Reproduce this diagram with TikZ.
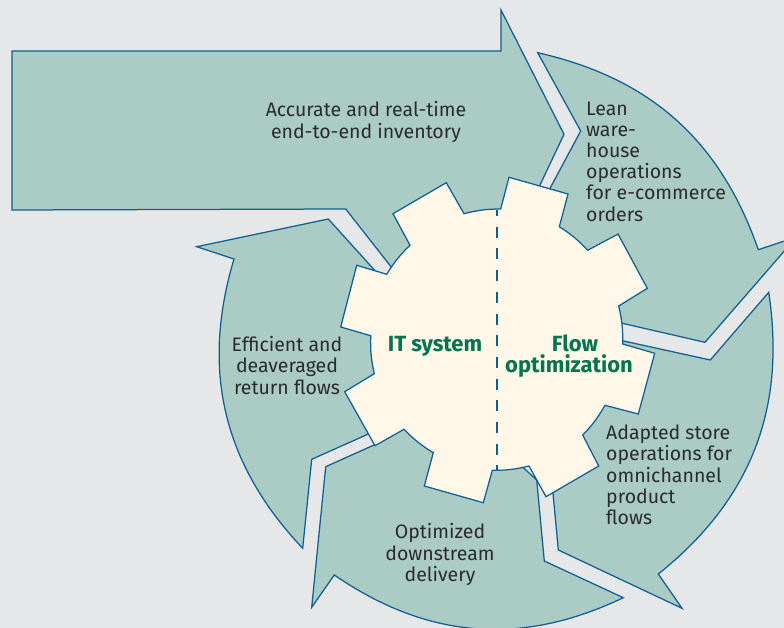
\documentclass[tikz,border=0pt]{standalone}
\usepackage{fontspec}
\setmainfont{Fira Sans}
\definecolor{bgc}{HTML}{E6E7E9}
\definecolor{tealc}{HTML}{ABCBC5}
\definecolor{linec}{HTML}{0F5F92}
\definecolor{gearc}{HTML}{FFF8E8}
\definecolor{greenc}{HTML}{00734F}
\definecolor{textc}{HTML}{2B2B2B}
\tikzset{
  petal/.style={fill=tealc,draw=linec,line width=1.25pt,line join=miter,miter limit=20},
  geartooth/.style={fill=gearc,draw=linec,line width=1.25pt,line join=miter},
  lab/.style={inner sep=0pt,text=textc,font=\fontsize{19.5}{21.2}\selectfont},
  gearlab/.style={inner sep=0pt,text=greenc,align=center,font=\fontsize{22}{21.2}\selectfont\bfseries},
  divider/.style={draw=linec,line width=1.9pt,dash pattern=on 11pt off 10.7pt,dash phase=5pt}
}
\begin{document}
\begin{tikzpicture}[x=1pt,y=-1pt]
\useasboundingbox (0,0) rectangle (784,628);
\fill[bgc] (0,0) rectangle (784,628);
\clip (0,0) rectangle (784,628);
% big arrow
\draw[petal] (12,51) -- (501,51) -- (501,10) -- (564,134.3) -- (540,185) -- (470,300) -- (391,266.7) -- (345.7,209) -- (12,210) -- cycle;
% lean warehouse
\draw[petal] (537.7,52.7) to[bend left=29] (758.3,249.7) -- (796.5,237) -- (705,342.3) -- (621,323) -- (540,300) -- (550,188.3) -- (580.7,131) -- cycle;
% adapted store
\draw[petal] (768.7,292.3) to[bend left=30] (658.3,574) -- (682,608.3) -- (558.3,550) -- (552.7,490) -- (560,380) -- (622.3,340.7) -- (710.3,360) -- cycle;
% optimized delivery
\draw[petal] (623.3,597.7) to[bend left=30] (334.3,575) -- (311.7,607.3) -- (325.7,466.7) -- (374,445) -- (450,400) -- (536.7,480) -- (544.3,561) -- cycle;
% efficient return
\draw[petal] (302.7,548.3) to[bend left=30] (234,259) -- (196.7,246.7) -- (328.3,219) -- (375,270.7) -- (420,340) -- (367.7,434.3) -- (311.7,459.3) -- cycle;
% gear
\draw[geartooth] (500.7,209) -- (509,177.3) -- (568,194) -- (559.3,226.7)
  to[bend left=7] (587.7,250.3) -- (618,234) -- (647.3,288.3) -- (618.7,306)
  to[bend left=7] (622.7,344) -- (654.7,353.3) -- (638.3,414) -- (605,405.3)
  to[bend left=7] (582.7,435) -- (598.7,466) -- (546,496.7) -- (529,466)
  to[bend left=7] (492.3,470.3) -- (483.3,502.7) -- (424.3,486) -- (433.3,452.7)
  to[bend left=7] (404,429.3) -- (375,445.7) -- (344.7,391.7) -- (374.3,373.7)
  to[bend left=7] (370.7,335.7) -- (340.7,327) -- (356.7,265.3) -- (386.7,274.3)
  to[bend left=7] (410,245.3) -- (393,213.7) -- (446.3,182.7) -- (464,213.7)
  to[bend left=7] cycle;
\coordinate (divtop) at (497.4,210);
\coordinate (divbot) at (497.4,470);
\draw[divider] (divtop) -- (divbot);
% labels
\node[lab,align=center] (inv) at (366,122) {Accurate and real-time\\end-to-end inventory};
\node[lab,align=left,anchor=west] (lean) at (586,161.5) {Lean\\ware-\\house\\operations\\for e-commerce\\orders};
\node[lab,align=left,anchor=west] (store) at (606,475) {Adapted store\\operations for\\omnichannel\\product\\flows};
\node[lab,align=center] (deliv) at (440,554.5) {Optimized\\downstream\\delivery};
\node[lab,align=center] (ret) at (287,365.5) {Efficient and\\deaveraged\\return flows};
\node[gearlab] (it) at (435,346) {IT system};
\node[gearlab] (flow) at (569,356) {\hspace*{12pt}Flow\\optimization};
\end{tikzpicture}
\end{document}
